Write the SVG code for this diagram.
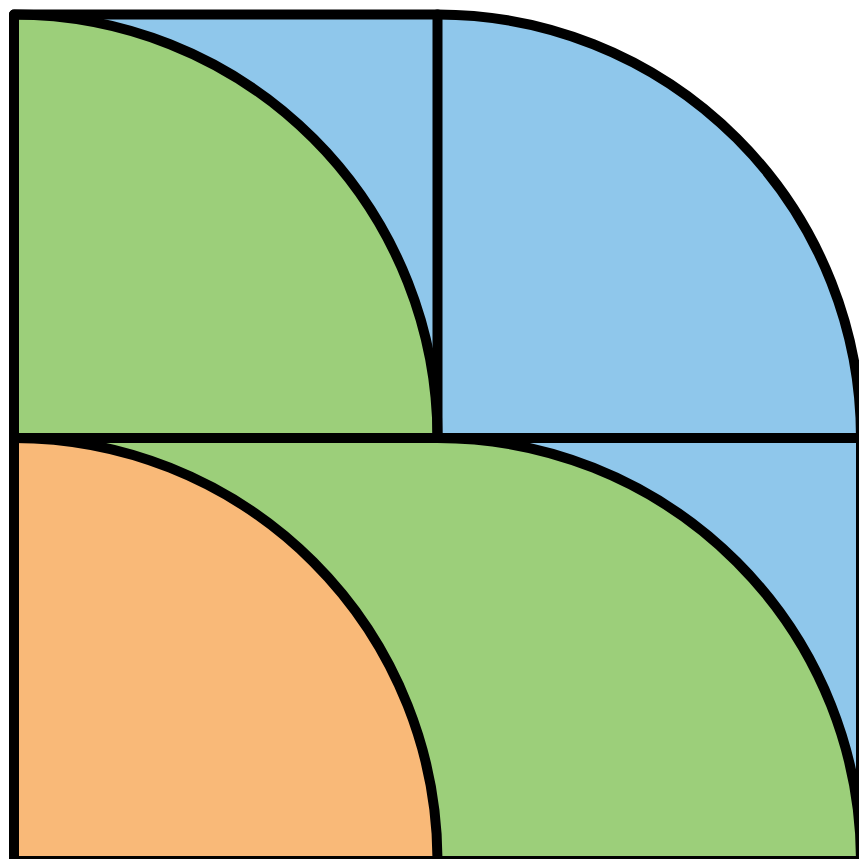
<svg xmlns="http://www.w3.org/2000/svg" width="859" height="859" viewBox="0 0 859 859">
<style>
.ln{fill:none;stroke:#000;stroke-width:10;stroke-linejoin:round;stroke-linecap:round}
.g{fill:#9ccf7a}.b{fill:#8fc7eb}.o{fill:#f9b978}
</style>
<rect width="859" height="859" fill="#fff"/>
<g id="top-left">
<rect class="b" x="14" y="14.5" width="423.5" height="423.5"/>
<path class="g" d="M14,438 L14,14.5 A423.5,423.5 0 0 1 437.5,438 Z"/>
</g>
<g id="top-right">
<path class="b" d="M437.5,438 L437.5,14.5 A423.5,423.5 0 0 1 861,438 Z"/>
</g>
<g id="bottom">
<rect class="b" x="14" y="438" width="847" height="423"/>
<path class="g" d="M14,438 L437.5,438 A423.5,423.5 0 0 1 861,861 L14,861 Z"/>
<path class="o" d="M14,861 L14,438 A423.5,423.5 0 0 1 437.5,861 Z"/>
</g>
<g id="lines">
<path class="ln" d="M14,861 L14,14.5 L437.5,14.5 A423.5,423.5 0 0 1 861,438 L861,861 Z"/>
<path class="ln" d="M437.5,14.5 L437.5,438 M14,438 L861,438"/>
<path class="ln" d="M14,14.5 A423.5,423.5 0 0 1 437.5,438"/>
<path class="ln" d="M14,438 A423.5,423.5 0 0 1 437.5,861"/>
<path class="ln" d="M437.5,438 A423.5,423.5 0 0 1 861,861"/>
</g>
</svg>
